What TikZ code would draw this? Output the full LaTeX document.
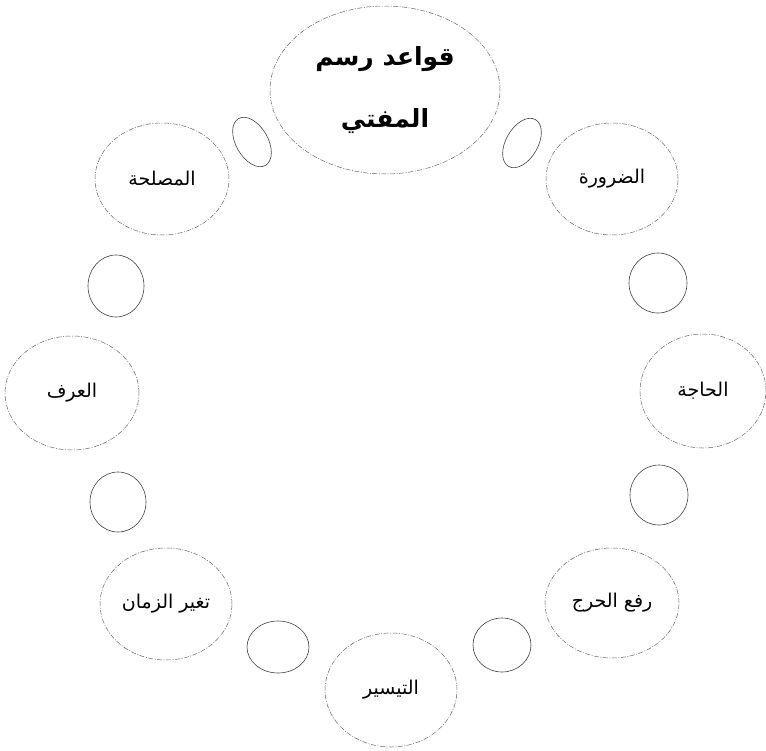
\documentclass[tikz,border=0pt]{standalone}
\usepackage{fontspec}
\usetikzlibrary{shapes.geometric}
\newfontfamily\arabicfont[Script=Arabic]{DejaVu Sans}
\TeXXeTstate=1
\tikzset{
  bigell/.style={ellipse, draw=black!60, line width=0.5pt,
    dash pattern=on 5pt off 1.5pt on 1pt off 1.5pt, inner sep=0pt,
    font=\arabicfont\fontsize{19}{22}\selectfont},
  smallell/.style={ellipse, draw=black!75, line width=0.6pt, inner sep=0pt},
}
\begin{document}
\begin{tikzpicture}[x=1pt,y=-1pt]
\useasboundingbox (0,0) rectangle (766,750);
% title
\node[bigell, minimum width=230pt, minimum height=168pt, align=center,
  font=\arabicfont\bfseries\fontsize{25}{62}\selectfont] (top) at (385,90)
  {\beginR قواعد رسم\endR\\\beginR المفتي\endR};
% outer nodes
\node[bigell, minimum width=132pt, minimum height=112pt] (darura) at (612,179) {\beginR الضرورة\endR};
\node[bigell, minimum width=126pt, minimum height=114pt] (haja) at (703,391) {\beginR الحاجة\endR};
\node[bigell, minimum width=134pt, minimum height=110pt] (raf) at (612,603) {\beginR رفع الحرج\endR};
\node[bigell, minimum width=132pt, minimum height=114pt] (taysir) at (391,690) {\beginR التيسير\endR};
\node[bigell, minimum width=132pt, minimum height=112pt] (zaman) at (166,604) {\beginR تغير الزمان\endR};
\node[bigell, minimum width=134pt, minimum height=114pt] (urf) at (72,393) {\beginR العرف\endR};
\node[bigell, minimum width=134pt, minimum height=112pt] (maslaha) at (162,179) {\beginR المصلحة\endR};
% small connecting ellipses
\node[smallell, minimum width=54pt, minimum height=32pt, rotate=60] (s1) at (522,143) {};
\node[smallell, minimum width=58pt, minimum height=60pt] (s2) at (658,283) {};
\node[smallell, minimum width=58pt, minimum height=60pt] (s3) at (659,495) {};
\node[smallell, minimum width=58pt, minimum height=54pt] (s4) at (502,645) {};
\node[smallell, minimum width=62pt, minimum height=52pt] (s5) at (278,647) {};
\node[smallell, minimum width=56pt, minimum height=60pt] (s6) at (118,502) {};
\node[smallell, minimum width=56pt, minimum height=62pt] (s7) at (116,286) {};
\node[smallell, minimum width=54pt, minimum height=32pt, rotate=-60] (s0) at (252,142) {};
\end{tikzpicture}
\end{document}
